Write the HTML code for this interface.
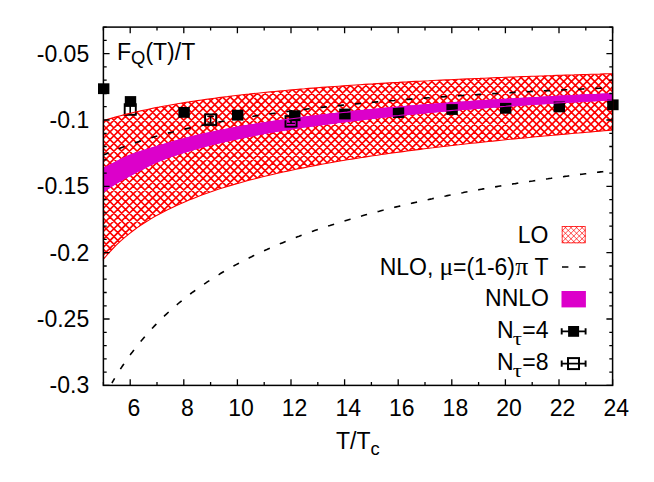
<!DOCTYPE html>
<html><head><meta charset="utf-8"><title>plot</title>
<style>
html,body{margin:0;padding:0;background:#fff;}
body{width:654px;height:482px;overflow:hidden;}
svg{display:block;}
text{font-family:"Liberation Sans",sans-serif;font-size:23.0px;fill:#000;}
.sym{font-family:"Liberation Serif",serif;}
</style></head><body>
<svg width="654" height="482" viewBox="0 0 654 482">
<defs>
<clipPath id="loclip"><polygon points="103.4,120.7 107.7,119.4 112.0,118.1 116.2,116.9 120.5,115.8 124.8,114.6 129.1,113.6 133.4,112.5 137.6,111.5 141.9,110.6 146.2,109.7 150.5,108.8 154.7,107.9 159.0,107.1 163.3,106.2 167.6,105.5 171.9,104.7 176.1,104.0 180.4,103.2 184.7,102.5 189.0,101.9 193.3,101.2 197.5,100.6 201.8,100.0 206.1,99.4 210.4,98.8 214.7,98.2 218.9,97.6 223.2,97.1 227.5,96.6 231.8,96.0 236.0,95.5 240.3,95.0 244.6,94.5 248.9,94.1 253.2,93.6 257.4,93.2 261.7,92.7 266.0,92.3 270.3,91.9 274.6,91.5 278.8,91.1 283.1,90.7 287.4,90.3 291.7,89.9 296.0,89.5 300.2,89.1 304.5,88.8 308.8,88.4 313.1,88.1 317.3,87.8 321.6,87.4 325.9,87.1 330.2,86.8 334.5,86.5 338.7,86.2 343.0,85.9 347.3,85.6 351.6,85.3 355.9,85.0 360.1,84.7 364.4,84.4 368.7,84.1 373.0,83.9 377.3,83.6 381.5,83.4 385.8,83.1 390.1,82.8 394.4,82.6 398.7,82.4 402.9,82.1 407.2,81.9 411.5,81.6 415.8,81.4 420.0,81.2 424.3,81.0 428.6,80.8 432.9,80.5 437.2,80.3 441.4,80.1 445.7,79.9 450.0,79.7 454.3,79.5 458.6,79.3 462.8,79.1 467.1,78.9 471.4,78.7 475.7,78.5 480.0,78.4 484.2,78.2 488.5,78.0 492.8,77.8 497.1,77.6 501.3,77.5 505.6,77.3 509.9,77.1 514.2,77.0 518.5,76.8 522.7,76.6 527.0,76.5 531.3,76.3 535.6,76.2 539.9,76.0 544.1,75.9 548.4,75.7 552.7,75.6 557.0,75.4 561.3,75.3 565.5,75.1 569.8,75.0 574.1,74.9 578.4,74.7 582.6,74.6 586.9,74.5 591.2,74.3 595.5,74.2 599.8,74.1 604.0,73.9 608.3,73.8 612.6,73.7 612.6,130.1 608.3,130.4 604.0,130.8 599.8,131.1 595.5,131.5 591.2,131.9 586.9,132.2 582.6,132.6 578.4,133.0 574.1,133.3 569.8,133.7 565.5,134.1 561.3,134.5 557.0,134.9 552.7,135.3 548.4,135.6 544.1,136.0 539.9,136.4 535.6,136.8 531.3,137.2 527.0,137.7 522.7,138.1 518.5,138.5 514.2,138.9 509.9,139.3 505.6,139.8 501.3,140.2 497.1,140.6 492.8,141.1 488.5,141.5 484.2,142.0 480.0,142.4 475.7,142.9 471.4,143.3 467.1,143.8 462.8,144.3 458.6,144.8 454.3,145.2 450.0,145.7 445.7,146.2 441.4,146.7 437.2,147.2 432.9,147.8 428.6,148.3 424.3,148.8 420.0,149.4 415.8,149.9 411.5,150.4 407.2,151.0 402.9,151.6 398.7,152.1 394.4,152.7 390.1,153.3 385.8,153.9 381.5,154.5 377.3,155.2 373.0,155.8 368.7,156.4 364.4,157.1 360.1,157.7 355.9,158.4 351.6,159.1 347.3,159.8 343.0,160.5 338.7,161.2 334.5,162.0 330.2,162.7 325.9,163.5 321.6,164.3 317.3,165.1 313.1,165.9 308.8,166.7 304.5,167.6 300.2,168.4 296.0,169.3 291.7,170.2 287.4,171.1 283.1,172.0 278.8,173.0 274.6,174.0 270.3,175.0 266.0,176.0 261.7,177.0 257.4,178.1 253.2,179.2 248.9,180.3 244.6,181.5 240.3,182.7 236.0,183.9 231.8,185.1 227.5,186.4 223.2,187.7 218.9,189.1 214.7,190.5 210.4,192.0 206.1,193.5 201.8,195.1 197.5,196.7 193.3,198.4 189.0,200.1 184.7,201.9 180.4,203.8 176.1,205.7 171.9,207.7 167.6,209.8 163.3,212.0 159.0,214.2 154.7,216.6 150.5,219.1 146.2,221.7 141.9,224.5 137.6,227.4 133.4,230.5 129.1,233.9 124.8,237.4 120.5,241.1 116.2,245.1 112.0,249.5 107.7,254.2 103.4,259.3"/></clipPath>
<clipPath id="legclip"><rect x="561.8" y="226.1" width="23.8" height="17.1"/></clipPath>
<clipPath id="plotclip"><rect x="103.4" y="27.1" width="509.20000000000005" height="358.29999999999995"/></clipPath>
</defs>
<rect width="654" height="482" fill="#fff"/>

<path d="M96.58 60 L-105.42 262 M104.34 60 L-97.66 262 M112.09 60 L-89.91 262 M119.85 60 L-82.15 262 M127.60 60 L-74.40 262 M135.36 60 L-66.64 262 M143.11 60 L-58.89 262 M150.87 60 L-51.13 262 M158.62 60 L-43.38 262 M166.38 60 L-35.62 262 M174.13 60 L-27.87 262 M181.89 60 L-20.11 262 M189.64 60 L-12.36 262 M197.40 60 L-4.60 262 M205.15 60 L3.15 262 M212.91 60 L10.91 262 M220.66 60 L18.66 262 M228.42 60 L26.42 262 M236.17 60 L34.17 262 M243.93 60 L41.93 262 M251.68 60 L49.68 262 M259.44 60 L57.44 262 M267.19 60 L65.19 262 M274.95 60 L72.95 262 M282.70 60 L80.70 262 M290.46 60 L88.46 262 M298.21 60 L96.21 262 M305.97 60 L103.97 262 M313.72 60 L111.72 262 M321.48 60 L119.48 262 M329.23 60 L127.23 262 M336.99 60 L134.99 262 M344.74 60 L142.74 262 M352.50 60 L150.50 262 M360.25 60 L158.25 262 M368.01 60 L166.01 262 M375.76 60 L173.76 262 M383.52 60 L181.52 262 M391.27 60 L189.27 262 M399.03 60 L197.03 262 M406.78 60 L204.78 262 M414.54 60 L212.54 262 M422.29 60 L220.29 262 M430.05 60 L228.05 262 M437.80 60 L235.80 262 M445.56 60 L243.56 262 M453.31 60 L251.31 262 M461.07 60 L259.07 262 M468.82 60 L266.82 262 M476.58 60 L274.58 262 M484.33 60 L282.33 262 M492.09 60 L290.09 262 M499.84 60 L297.84 262 M507.60 60 L305.60 262 M515.35 60 L313.35 262 M523.11 60 L321.11 262 M530.86 60 L328.86 262 M538.62 60 L336.62 262 M546.37 60 L344.37 262 M554.13 60 L352.13 262 M561.88 60 L359.88 262 M569.64 60 L367.64 262 M577.39 60 L375.39 262 M585.15 60 L383.15 262 M592.90 60 L390.90 262 M600.66 60 L398.66 262 M608.41 60 L406.41 262 M616.17 60 L414.17 262 M623.92 60 L421.92 262 M631.68 60 L429.68 262 M639.43 60 L437.43 262 M647.19 60 L445.19 262 M654.94 60 L452.94 262 M662.70 60 L460.70 262 M670.45 60 L468.45 262 M678.21 60 L476.21 262 M685.96 60 L483.96 262 M693.72 60 L491.72 262 M701.47 60 L499.47 262 M709.23 60 L507.23 262 M716.98 60 L514.98 262 M724.74 60 L522.74 262 M732.49 60 L530.49 262 M740.25 60 L538.25 262 M748.00 60 L546.00 262 M755.76 60 L553.76 262 M763.51 60 L561.51 262 M771.27 60 L569.27 262 M779.02 60 L577.02 262 M786.78 60 L584.78 262 M794.53 60 L592.53 262 M802.29 60 L600.29 262 M810.04 60 L608.04 262 M817.80 60 L615.80 262 M825.55 60 L623.55 262 M-109.17 60 L92.83 262 M-101.41 60 L100.59 262 M-93.66 60 L108.34 262 M-85.90 60 L116.10 262 M-78.15 60 L123.85 262 M-70.39 60 L131.61 262 M-62.64 60 L139.36 262 M-54.88 60 L147.12 262 M-47.13 60 L154.87 262 M-39.37 60 L162.63 262 M-31.62 60 L170.38 262 M-23.86 60 L178.14 262 M-16.11 60 L185.89 262 M-8.35 60 L193.65 262 M-0.60 60 L201.40 262 M7.16 60 L209.16 262 M14.91 60 L216.91 262 M22.67 60 L224.67 262 M30.42 60 L232.42 262 M38.18 60 L240.18 262 M45.93 60 L247.93 262 M53.69 60 L255.69 262 M61.44 60 L263.44 262 M69.20 60 L271.20 262 M76.95 60 L278.95 262 M84.71 60 L286.71 262 M92.46 60 L294.46 262 M100.22 60 L302.22 262 M107.97 60 L309.97 262 M115.73 60 L317.73 262 M123.48 60 L325.48 262 M131.24 60 L333.24 262 M138.99 60 L340.99 262 M146.75 60 L348.75 262 M154.50 60 L356.50 262 M162.26 60 L364.26 262 M170.01 60 L372.01 262 M177.77 60 L379.77 262 M185.52 60 L387.52 262 M193.28 60 L395.28 262 M201.03 60 L403.03 262 M208.79 60 L410.79 262 M216.54 60 L418.54 262 M224.30 60 L426.30 262 M232.05 60 L434.05 262 M239.81 60 L441.81 262 M247.56 60 L449.56 262 M255.32 60 L457.32 262 M263.07 60 L465.07 262 M270.83 60 L472.83 262 M278.58 60 L480.58 262 M286.34 60 L488.34 262 M294.09 60 L496.09 262 M301.85 60 L503.85 262 M309.60 60 L511.60 262 M317.36 60 L519.36 262 M325.11 60 L527.11 262 M332.87 60 L534.87 262 M340.62 60 L542.62 262 M348.38 60 L550.38 262 M356.13 60 L558.13 262 M363.89 60 L565.89 262 M371.64 60 L573.64 262 M379.40 60 L581.40 262 M387.15 60 L589.15 262 M394.91 60 L596.91 262 M402.66 60 L604.66 262 M410.42 60 L612.42 262 M418.17 60 L620.17 262 M425.93 60 L627.93 262 M433.68 60 L635.68 262 M441.44 60 L643.44 262 M449.19 60 L651.19 262 M456.95 60 L658.95 262 M464.70 60 L666.70 262 M472.46 60 L674.46 262 M480.21 60 L682.21 262 M487.97 60 L689.97 262 M495.72 60 L697.72 262 M503.48 60 L705.48 262 M511.23 60 L713.23 262 M518.99 60 L720.99 262 M526.74 60 L728.74 262 M534.50 60 L736.50 262 M542.25 60 L744.25 262 M550.01 60 L752.01 262 M557.76 60 L759.76 262 M565.52 60 L767.52 262 M573.27 60 L775.27 262 M581.03 60 L783.03 262 M588.78 60 L790.78 262 M596.54 60 L798.54 262 M604.29 60 L806.29 262 M612.05 60 L814.05 262 M619.80 60 L821.80 262" stroke="#ff0000" stroke-width="1.65" fill="none" clip-path="url(#loclip)" stroke-opacity="1"/>
<path d="M103.4 155.1 L107.7 153.2 L112.0 151.4 L116.2 149.7 L120.5 148.0 L124.8 146.4 L129.1 144.9 L133.4 143.4 L137.6 142.0 L141.9 140.6 L146.2 139.3 L150.5 138.0 L154.7 136.7 L159.0 135.5 L163.3 134.4 L167.6 133.2 L171.9 132.2 L176.1 131.1 L180.4 130.1 L184.7 129.1 L189.0 128.1 L193.3 127.2 L197.5 126.2 L201.8 125.4 L206.1 124.5 L210.4 123.6 L214.7 122.8 L218.9 122.0 L223.2 121.2 L227.5 120.5 L231.8 119.7 L236.0 119.0 L240.3 118.3 L244.6 117.6 L248.9 116.9 L253.2 116.3 L257.4 115.6 L261.7 115.0 L266.0 114.4 L270.3 113.8 L274.6 113.2 L278.8 112.6 L283.1 112.0 L287.4 111.5 L291.7 110.9 L296.0 110.4 L300.2 109.9 L304.5 109.4 L308.8 108.8 L313.1 108.4 L317.3 107.9 L321.6 107.4 L325.9 106.9 L330.2 106.5 L334.5 106.0 L338.7 105.6 L343.0 105.1 L347.3 104.7 L351.6 104.3 L355.9 103.9 L360.1 103.5 L364.4 103.1 L368.7 102.7 L373.0 102.3 L377.3 101.9 L381.5 101.6 L385.8 101.2 L390.1 100.8 L394.4 100.5 L398.7 100.1 L402.9 99.8 L407.2 99.4 L411.5 99.1 L415.8 98.8 L420.0 98.5 L424.3 98.1 L428.6 97.8 L432.9 97.5 L437.2 97.2 L441.4 96.9 L445.7 96.6 L450.0 96.3 L454.3 96.0 L458.6 95.8 L462.8 95.5 L467.1 95.2 L471.4 94.9 L475.7 94.7 L480.0 94.4 L484.2 94.1 L488.5 93.9 L492.8 93.6 L497.1 93.4 L501.3 93.1 L505.6 92.9 L509.9 92.7 L514.2 92.4 L518.5 92.2 L522.7 92.0 L527.0 91.7 L531.3 91.5 L535.6 91.3 L539.9 91.1 L544.1 90.8 L548.4 90.6 L552.7 90.4 L557.0 90.2 L561.3 90.0 L565.5 89.8 L569.8 89.6 L574.1 89.4 L578.4 89.2 L582.6 89.0 L586.9 88.8 L591.2 88.6 L595.5 88.4 L599.8 88.2 L604.0 88.1 L608.3 87.9 L612.6 87.7" fill="none" stroke="#000" stroke-width="1.6" stroke-dasharray="6.3 10.92" stroke-dashoffset="0.7"/>
<path d="M612.6 170.5 L610.9 170.7 L609.2 170.9 L607.5 171.1 L605.8 171.3 L604.1 171.5 L602.4 171.7 L600.7 171.9 L599.0 172.1 L597.3 172.3 L595.6 172.5 L593.9 172.8 L592.2 173.0 L590.5 173.2 L588.8 173.4 L587.1 173.6 L585.4 173.8 L583.6 174.0 L581.9 174.2 L580.2 174.4 L578.5 174.7 L576.8 174.9 L575.1 175.1 L573.4 175.3 L571.7 175.5 L570.0 175.8 L568.3 176.0 L566.6 176.2 L564.9 176.4 L563.2 176.7 L561.5 176.9 L559.8 177.1 L558.1 177.3 L556.4 177.6 L554.7 177.8 L553.0 178.0 L551.3 178.3 L549.6 178.5 L547.9 178.8 L546.2 179.0 L544.5 179.2 L542.8 179.5 L541.1 179.7 L539.4 180.0 L537.7 180.2 L536.0 180.5 L534.3 180.7 L532.6 181.0 L530.9 181.2 L529.2 181.5 L527.4 181.7 L525.7 182.0 L524.0 182.3 L522.3 182.5 L520.6 182.8 L518.9 183.0 L517.2 183.3 L515.5 183.6 L513.8 183.8 L512.1 184.1 L510.4 184.4 L508.7 184.7 L507.0 184.9 L505.3 185.2 L503.6 185.5 L501.9 185.8 L500.2 186.0 L498.5 186.3 L496.8 186.6 L495.1 186.9 L493.4 187.2 L491.7 187.5 L490.0 187.8 L488.3 188.1 L486.6 188.4 L484.9 188.6 L483.2 188.9 L481.5 189.2 L479.8 189.5 L478.1 189.9 L476.4 190.2 L474.7 190.5 L473.0 190.8 L471.3 191.1 L469.5 191.4 L467.8 191.7 L466.1 192.0 L464.4 192.3 L462.7 192.7 L461.0 193.0 L459.3 193.3 L457.6 193.6 L455.9 194.0 L454.2 194.3 L452.5 194.6 L450.8 195.0 L449.1 195.3 L447.4 195.6 L445.7 196.0 L444.0 196.3 L442.3 196.7 L440.6 197.0 L438.9 197.4 L437.2 197.7 L435.5 198.1 L433.8 198.4 L432.1 198.8 L430.4 199.1 L428.7 199.5 L427.0 199.9 L425.3 200.2 L423.6 200.6 L421.9 201.0 L420.2 201.4 L418.5 201.7 L416.8 202.1 L415.1 202.5 L413.3 202.9 L411.6 203.3 L409.9 203.7 L408.2 204.1 L406.5 204.5 L404.8 204.9 L403.1 205.3 L401.4 205.7 L399.7 206.1 L398.0 206.5 L396.3 206.9 L394.6 207.3 L392.9 207.7 L391.2 208.1 L389.5 208.6 L387.8 209.0 L386.1 209.4 L384.4 209.8 L382.7 210.3 L381.0 210.7 L379.3 211.2 L377.6 211.6 L375.9 212.1 L374.2 212.5 L372.5 213.0 L370.8 213.4 L369.1 213.9 L367.4 214.3 L365.7 214.8 L364.0 215.3 L362.3 215.8 L360.6 216.2 L358.9 216.7 L357.1 217.2 L355.4 217.7 L353.7 218.2 L352.0 218.7 L350.3 219.2 L348.6 219.7 L346.9 220.2 L345.2 220.7 L343.5 221.2 L341.8 221.7 L340.1 222.3 L338.4 222.8 L336.7 223.3 L335.0 223.9 L333.3 224.4 L331.6 224.9 L329.9 225.5 L328.2 226.0 L326.5 226.6 L324.8 227.2 L323.1 227.7 L321.4 228.3 L319.7 228.9 L318.0 229.5 L316.3 230.0 L314.6 230.6 L312.9 231.2 L311.2 231.8 L309.5 232.4 L307.8 233.0 L306.1 233.7 L304.4 234.3 L302.7 234.9 L300.9 235.5 L299.2 236.2 L297.5 236.8 L295.8 237.5 L294.1 238.1 L292.4 238.8 L290.7 239.4 L289.0 240.1 L287.3 240.8 L285.6 241.5 L283.9 242.2 L282.2 242.9 L280.5 243.6 L278.8 244.3 L277.1 245.0 L275.4 245.7 L273.7 246.5 L272.0 247.2 L270.3 248.0 L268.6 248.7 L266.9 249.5 L265.2 250.2 L263.5 251.0 L261.8 251.8 L260.1 252.6 L258.4 253.4 L256.7 254.2 L255.0 255.0 L253.3 255.8 L251.6 256.7 L249.9 257.5 L248.2 258.4 L246.5 259.2 L244.7 260.1 L243.0 261.0 L241.3 261.9 L239.6 262.8 L237.9 263.7 L236.2 264.6 L234.5 265.5 L232.8 266.4 L231.1 267.4 L229.4 268.4 L227.7 269.3 L226.0 270.3 L224.3 271.3 L222.6 272.3 L220.9 273.3 L219.2 274.4 L217.5 275.4 L215.8 276.5 L214.1 277.5 L212.4 278.6 L210.7 279.7 L209.0 280.8 L207.3 281.9 L205.6 283.1 L203.9 284.2 L202.2 285.4 L200.5 286.6 L198.8 287.8 L197.1 289.0 L195.4 290.2 L193.7 291.5 L192.0 292.7 L190.3 294.0 L188.6 295.3 L186.8 296.7 L185.1 298.0 L183.4 299.3 L181.7 300.7 L180.0 302.1 L178.3 303.5 L176.6 305.0 L174.9 306.4 L173.2 307.9 L171.5 309.4 L169.8 311.0 L168.1 312.5 L166.4 314.1 L164.7 315.7 L163.0 317.3 L161.3 319.0 L159.6 320.7 L157.9 322.4 L156.2 324.1 L154.5 325.9 L152.8 327.7 L151.1 329.5 L149.4 331.4 L147.7 333.3 L146.0 335.2 L144.3 337.2 L142.6 339.2 L140.9 341.2 L139.2 343.3 L137.5 345.4 L135.8 347.6 L134.1 349.8 L132.4 352.1 L130.6 354.3 L128.9 356.7 L127.2 359.1 L125.5 361.5 L123.8 364.0 L122.1 366.5 L120.4 369.1 L118.7 371.8 L117.0 374.5 L115.3 377.2 L113.6 380.1 L111.9 383.0" fill="none" stroke="#000" stroke-width="1.6" stroke-dasharray="6.3 10.87" stroke-dashoffset="7.8" clip-path="url(#plotclip)"/>
<polygon points="103.4,167.6 107.7,165.7 112.0,163.5 116.2,161.2 120.5,159.0 124.8,156.9 129.1,155.0 133.4,153.3 137.6,151.8 141.9,150.5 146.2,149.2 150.5,147.9 154.7,146.6 159.0,145.3 163.3,144.0 167.6,142.7 171.9,141.5 176.1,140.3 180.4,139.1 184.7,138.0 189.0,136.9 193.3,135.8 197.5,134.8 201.8,133.8 206.1,132.9 210.4,131.9 214.7,131.0 218.9,130.1 223.2,129.3 227.5,128.4 231.8,127.6 236.0,126.8 240.3,126.1 244.6,125.3 248.9,124.6 253.2,123.9 257.4,123.2 261.7,122.6 266.0,121.9 270.3,121.3 274.6,120.6 278.8,120.0 283.1,119.4 287.4,118.8 291.7,118.3 296.0,117.7 300.2,117.1 304.5,116.6 308.8,116.0 313.1,115.5 317.3,115.0 321.6,114.4 325.9,113.9 330.2,113.4 334.5,112.9 338.7,112.4 343.0,112.0 347.3,111.5 351.6,111.0 355.9,110.6 360.1,110.1 364.4,109.7 368.7,109.3 373.0,108.9 377.3,108.5 381.5,108.0 385.8,107.6 390.1,107.3 394.4,106.9 398.7,106.5 402.9,106.1 407.2,105.7 411.5,105.4 415.8,105.0 420.0,104.7 424.3,104.3 428.6,104.0 432.9,103.7 437.2,103.3 441.4,103.0 445.7,102.7 450.0,102.4 454.3,102.1 458.6,101.7 462.8,101.4 467.1,101.2 471.4,100.9 475.7,100.6 480.0,100.3 484.2,100.0 488.5,99.7 492.8,99.5 497.1,99.2 501.3,98.9 505.6,98.7 509.9,98.4 514.2,98.2 518.5,97.9 522.7,97.7 527.0,97.4 531.3,97.2 535.6,96.9 539.9,96.7 544.1,96.5 548.4,96.2 552.7,96.0 557.0,95.8 561.3,95.6 565.5,95.4 569.8,95.2 574.1,94.9 578.4,94.7 582.6,94.5 586.9,94.3 591.2,94.1 595.5,93.9 599.8,93.7 604.0,93.6 608.3,93.4 612.6,93.2 612.6,100.4 608.3,100.6 604.0,100.8 599.8,101.1 595.5,101.3 591.2,101.5 586.9,101.8 582.6,102.0 578.4,102.2 574.1,102.5 569.8,102.7 565.5,103.0 561.3,103.2 557.0,103.5 552.7,103.7 548.4,104.0 544.1,104.2 539.9,104.5 535.6,104.8 531.3,105.1 527.0,105.3 522.7,105.6 518.5,105.9 514.2,106.2 509.9,106.5 505.6,106.8 501.3,107.1 497.1,107.4 492.8,107.7 488.5,108.1 484.2,108.4 480.0,108.7 475.7,109.0 471.4,109.4 467.1,109.7 462.8,110.1 458.6,110.4 454.3,110.8 450.0,111.1 445.7,111.5 441.4,111.9 437.2,112.3 432.9,112.7 428.6,113.0 424.3,113.4 420.0,113.9 415.8,114.3 411.5,114.7 407.2,115.1 402.9,115.6 398.7,116.0 394.4,116.5 390.1,116.9 385.8,117.4 381.5,117.9 377.3,118.4 373.0,118.9 368.7,119.4 364.4,119.9 360.1,120.4 355.9,120.9 351.6,121.5 347.3,122.0 343.0,122.5 338.7,123.1 334.5,123.6 330.2,124.1 325.9,124.7 321.6,125.3 317.3,125.8 313.1,126.4 308.8,127.0 304.5,127.6 300.2,128.2 296.0,128.8 291.7,129.5 287.4,130.2 283.1,130.9 278.8,131.6 274.6,132.3 270.3,133.0 266.0,133.8 261.7,134.6 257.4,135.4 253.2,136.2 248.9,137.1 244.6,137.9 240.3,138.8 236.0,139.7 231.8,140.6 227.5,141.5 223.2,142.4 218.9,143.4 214.7,144.4 210.4,145.5 206.1,146.6 201.8,147.8 197.5,148.9 193.3,150.2 189.0,151.4 184.7,152.7 180.4,154.1 176.1,155.4 171.9,156.8 167.6,158.3 163.3,159.9 159.0,161.7 154.7,163.5 150.5,165.6 146.2,167.7 141.9,169.9 137.6,172.1 133.4,174.4 129.1,176.7 124.8,179.0 120.5,181.4 116.2,183.9 112.0,186.5 107.7,189.4 103.4,192.5" fill="#dc00ca" stroke="none"/>
<rect x="98.0" y="83.3" width="11.4" height="10.8" fill="#000"/>
<rect x="124.8" y="96.1" width="11.4" height="10.8" fill="#000"/>
<rect x="178.4" y="107.0" width="11.4" height="10.8" fill="#000"/>
<rect x="232.0" y="109.8" width="11.4" height="10.8" fill="#000"/>
<rect x="289.1" y="110.3" width="11.4" height="10.8" fill="#000"/>
<rect x="339.2" y="108.6" width="11.4" height="10.8" fill="#000"/>
<rect x="392.8" y="107.2" width="11.4" height="10.8" fill="#000"/>
<rect x="446.4" y="104.1" width="11.4" height="10.8" fill="#000"/>
<rect x="500.0" y="102.9" width="11.4" height="10.8" fill="#000"/>
<rect x="553.6" y="101.5" width="11.4" height="10.8" fill="#000"/>
<rect x="607.2" y="99.4" width="11.4" height="10.8" fill="#000"/>
<rect x="124.7" y="104.2" width="11.1" height="10.6" fill="none" stroke="#000" stroke-width="1.9"/>
<path d="M130.2 106.0 V113.0" stroke="#000" stroke-width="1.6" fill="none"/>
<rect x="205.1" y="114.4" width="11.1" height="10.6" fill="none" stroke="#000" stroke-width="1.9"/>
<path d="M210.6 116.3 V123.1" stroke="#000" stroke-width="1.6" fill="none"/>
<path d="M207.3 116.3 H213.9 M207.3 123.1 H213.9" stroke="#000" stroke-width="1.2" fill="none"/>
<rect x="285.5" y="116.1" width="11.1" height="10.6" fill="none" stroke="#000" stroke-width="1.9"/>
<path d="M291.0 119.4 V123.4" stroke="#000" stroke-width="1.6" fill="none"/>
<path d="M287.0 119.4 H295.0 M287.0 123.4 H295.0" stroke="#000" stroke-width="1.2" fill="none"/>
<path d="M103.4 168.2 L107.7 166.2 L112.0 164.0 L116.2 161.8 L120.5 159.5 L124.8 157.4 L129.1 155.5 L133.4 153.9 L137.6 152.4 L141.9 151.0 L146.2 149.7 L150.5 148.4 L154.7 147.1 L159.0 145.8 L163.3 144.5 L167.6 143.3 L171.9 142.0 L176.1 140.8 L180.4 139.6 L184.7 138.5 L189.0 137.4 L193.3 136.4 L197.5 135.4 L201.8 134.4 L206.1 133.4 L210.4 132.5 L214.7 131.6 L218.9 130.7 L223.2 129.8 L227.5 129.0 L231.8 128.2 L236.0 127.4 L240.3 126.6 L244.6 125.9 L248.9 125.2 L253.2 124.5 L257.4 123.8 L261.7 123.1 L266.0 122.5 L270.3 121.8 L274.6 121.2 L278.8 120.6 L283.1 120.0 L287.4 119.4 L291.7 118.8 L296.0 118.2 L300.2 117.7 L304.5 117.1 L308.8 116.6 L313.1 116.0 L317.3 115.5 L321.6 115.0 L325.9 114.5 L330.2 114.0 L334.5 113.5 L338.7 113.0 L343.0 112.5 L347.3 112.1 L351.6 111.6 L355.9 111.1 L360.1 110.7 L364.4 110.3 L368.7 109.8 L373.0 109.4 L377.3 109.0 L381.5 108.6 L385.8 108.2 L390.1 107.8 L394.4 107.4 L398.7 107.0 L402.9 106.7 L407.2 106.3 L411.5 105.9 L415.8 105.6 L420.0 105.2 L424.3 104.9 L428.6 104.5 L432.9 104.2 L437.2 103.9 L441.4 103.6 L445.7 103.2 L450.0 102.9 L454.3 102.6 L458.6 102.3 L462.8 102.0 L467.1 101.7 L471.4 101.4 L475.7 101.1 L480.0 100.8 L484.2 100.6 L488.5 100.3 L492.8 100.0 L497.1 99.7 L501.3 99.5 L505.6 99.2 L509.9 99.0 L514.2 98.7 L518.5 98.5 L522.7 98.2 L527.0 98.0 L531.3 97.7 L535.6 97.5 L539.9 97.3 L544.1 97.0 L548.4 96.8 L552.7 96.6 L557.0 96.4 L561.3 96.1 L565.5 95.9 L569.8 95.7 L574.1 95.5 L578.4 95.3 L582.6 95.1 L586.9 94.9 L591.2 94.7 L595.5 94.5 L599.8 94.3 L604.0 94.1 L608.3 93.9 L612.6 93.7" fill="none" stroke="#dc00ca" stroke-width="1.1"/>
<path d="M103.4 191.9 L107.7 188.8 L112.0 186.0 L116.2 183.3 L120.5 180.8 L124.8 178.4 L129.1 176.1 L133.4 173.8 L137.6 171.6 L141.9 169.4 L146.2 167.2 L150.5 165.0 L154.7 163.0 L159.0 161.1 L163.3 159.4 L167.6 157.8 L171.9 156.3 L176.1 154.9 L180.4 153.5 L184.7 152.2 L189.0 150.9 L193.3 149.6 L197.5 148.4 L201.8 147.2 L206.1 146.1 L210.4 145.0 L214.7 143.9 L218.9 142.9 L223.2 141.9 L227.5 140.9 L231.8 140.0 L236.0 139.1 L240.3 138.2 L244.6 137.4 L248.9 136.5 L253.2 135.7 L257.4 134.8 L261.7 134.0 L266.0 133.3 L270.3 132.5 L274.6 131.7 L278.8 131.0 L283.1 130.3 L287.4 129.6 L291.7 128.9 L296.0 128.3 L300.2 127.7 L304.5 127.0 L308.8 126.4 L313.1 125.9 L317.3 125.3 L321.6 124.7 L325.9 124.2 L330.2 123.6 L334.5 123.1 L338.7 122.5 L343.0 122.0 L347.3 121.4 L351.6 120.9 L355.9 120.4 L360.1 119.9 L364.4 119.3 L368.7 118.8 L373.0 118.3 L377.3 117.8 L381.5 117.3 L385.8 116.9 L390.1 116.4 L394.4 115.9 L398.7 115.5 L402.9 115.0 L407.2 114.6 L411.5 114.1 L415.8 113.7 L420.0 113.3 L424.3 112.9 L428.6 112.5 L432.9 112.1 L437.2 111.7 L441.4 111.3 L445.7 111.0 L450.0 110.6 L454.3 110.2 L458.6 109.9 L462.8 109.5 L467.1 109.2 L471.4 108.8 L475.7 108.5 L480.0 108.2 L484.2 107.8 L488.5 107.5 L492.8 107.2 L497.1 106.9 L501.3 106.6 L505.6 106.3 L509.9 105.9 L514.2 105.7 L518.5 105.4 L522.7 105.1 L527.0 104.8 L531.3 104.5 L535.6 104.2 L539.9 104.0 L544.1 103.7 L548.4 103.4 L552.7 103.2 L557.0 102.9 L561.3 102.7 L565.5 102.4 L569.8 102.2 L574.1 101.9 L578.4 101.7 L582.6 101.4 L586.9 101.2 L591.2 101.0 L595.5 100.7 L599.8 100.5 L604.0 100.3 L608.3 100.1 L612.6 99.9" fill="none" stroke="#dc00ca" stroke-width="1.1"/>
<polygon points="103.4,120.7 107.7,119.4 112.0,118.1 116.2,116.9 120.5,115.8 124.8,114.6 129.1,113.6 133.4,112.5 137.6,111.5 141.9,110.6 146.2,109.7 150.5,108.8 154.7,107.9 159.0,107.1 163.3,106.2 167.6,105.5 171.9,104.7 176.1,104.0 180.4,103.2 184.7,102.5 189.0,101.9 193.3,101.2 197.5,100.6 201.8,100.0 206.1,99.4 210.4,98.8 214.7,98.2 218.9,97.6 223.2,97.1 227.5,96.6 231.8,96.0 236.0,95.5 240.3,95.0 244.6,94.5 248.9,94.1 253.2,93.6 257.4,93.2 261.7,92.7 266.0,92.3 270.3,91.9 274.6,91.5 278.8,91.1 283.1,90.7 287.4,90.3 291.7,89.9 296.0,89.5 300.2,89.1 304.5,88.8 308.8,88.4 313.1,88.1 317.3,87.8 321.6,87.4 325.9,87.1 330.2,86.8 334.5,86.5 338.7,86.2 343.0,85.9 347.3,85.6 351.6,85.3 355.9,85.0 360.1,84.7 364.4,84.4 368.7,84.1 373.0,83.9 377.3,83.6 381.5,83.4 385.8,83.1 390.1,82.8 394.4,82.6 398.7,82.4 402.9,82.1 407.2,81.9 411.5,81.6 415.8,81.4 420.0,81.2 424.3,81.0 428.6,80.8 432.9,80.5 437.2,80.3 441.4,80.1 445.7,79.9 450.0,79.7 454.3,79.5 458.6,79.3 462.8,79.1 467.1,78.9 471.4,78.7 475.7,78.5 480.0,78.4 484.2,78.2 488.5,78.0 492.8,77.8 497.1,77.6 501.3,77.5 505.6,77.3 509.9,77.1 514.2,77.0 518.5,76.8 522.7,76.6 527.0,76.5 531.3,76.3 535.6,76.2 539.9,76.0 544.1,75.9 548.4,75.7 552.7,75.6 557.0,75.4 561.3,75.3 565.5,75.1 569.8,75.0 574.1,74.9 578.4,74.7 582.6,74.6 586.9,74.5 591.2,74.3 595.5,74.2 599.8,74.1 604.0,73.9 608.3,73.8 612.6,73.7 612.6,130.1 608.3,130.4 604.0,130.8 599.8,131.1 595.5,131.5 591.2,131.9 586.9,132.2 582.6,132.6 578.4,133.0 574.1,133.3 569.8,133.7 565.5,134.1 561.3,134.5 557.0,134.9 552.7,135.3 548.4,135.6 544.1,136.0 539.9,136.4 535.6,136.8 531.3,137.2 527.0,137.7 522.7,138.1 518.5,138.5 514.2,138.9 509.9,139.3 505.6,139.8 501.3,140.2 497.1,140.6 492.8,141.1 488.5,141.5 484.2,142.0 480.0,142.4 475.7,142.9 471.4,143.3 467.1,143.8 462.8,144.3 458.6,144.8 454.3,145.2 450.0,145.7 445.7,146.2 441.4,146.7 437.2,147.2 432.9,147.8 428.6,148.3 424.3,148.8 420.0,149.4 415.8,149.9 411.5,150.4 407.2,151.0 402.9,151.6 398.7,152.1 394.4,152.7 390.1,153.3 385.8,153.9 381.5,154.5 377.3,155.2 373.0,155.8 368.7,156.4 364.4,157.1 360.1,157.7 355.9,158.4 351.6,159.1 347.3,159.8 343.0,160.5 338.7,161.2 334.5,162.0 330.2,162.7 325.9,163.5 321.6,164.3 317.3,165.1 313.1,165.9 308.8,166.7 304.5,167.6 300.2,168.4 296.0,169.3 291.7,170.2 287.4,171.1 283.1,172.0 278.8,173.0 274.6,174.0 270.3,175.0 266.0,176.0 261.7,177.0 257.4,178.1 253.2,179.2 248.9,180.3 244.6,181.5 240.3,182.7 236.0,183.9 231.8,185.1 227.5,186.4 223.2,187.7 218.9,189.1 214.7,190.5 210.4,192.0 206.1,193.5 201.8,195.1 197.5,196.7 193.3,198.4 189.0,200.1 184.7,201.9 180.4,203.8 176.1,205.7 171.9,207.7 167.6,209.8 163.3,212.0 159.0,214.2 154.7,216.6 150.5,219.1 146.2,221.7 141.9,224.5 137.6,227.4 133.4,230.5 129.1,233.9 124.8,237.4 120.5,241.1 116.2,245.1 112.0,249.5 107.7,254.2 103.4,259.3" fill="none" stroke="#ff0000" stroke-width="1.1"/>
<rect x="103.4" y="27.1" width="509.2" height="358.3" fill="none" stroke="#000" stroke-width="1.5"/>
<path d="M103.4 385.4 v-3.3 M103.4 27.1 v3.3 M130.2 385.4 v-6.2 M130.2 27.1 v6.2 M157.0 385.4 v-3.3 M157.0 27.1 v3.3 M183.8 385.4 v-6.2 M183.8 27.1 v6.2 M210.6 385.4 v-3.3 M210.6 27.1 v3.3 M237.4 385.4 v-6.2 M237.4 27.1 v6.2 M264.2 385.4 v-3.3 M264.2 27.1 v3.3 M291.0 385.4 v-6.2 M291.0 27.1 v6.2 M317.8 385.4 v-3.3 M317.8 27.1 v3.3 M344.6 385.4 v-6.2 M344.6 27.1 v6.2 M371.4 385.4 v-3.3 M371.4 27.1 v3.3 M398.2 385.4 v-6.2 M398.2 27.1 v6.2 M425.0 385.4 v-3.3 M425.0 27.1 v3.3 M451.8 385.4 v-6.2 M451.8 27.1 v6.2 M478.6 385.4 v-3.3 M478.6 27.1 v3.3 M505.4 385.4 v-6.2 M505.4 27.1 v6.2 M532.2 385.4 v-3.3 M532.2 27.1 v3.3 M559.0 385.4 v-6.2 M559.0 27.1 v6.2 M585.8 385.4 v-3.3 M585.8 27.1 v3.3 M612.6 385.4 v-6.2 M612.6 27.1 v6.2 M103.4 27.1 h3.3 M612.6 27.1 h-3.3 M103.4 40.4 h3.3 M612.6 40.4 h-3.3 M103.4 53.6 h6.2 M612.6 53.6 h-6.2 M103.4 66.9 h3.3 M612.6 66.9 h-3.3 M103.4 80.2 h3.3 M612.6 80.2 h-3.3 M103.4 93.5 h3.3 M612.6 93.5 h-3.3 M103.4 106.7 h3.3 M612.6 106.7 h-3.3 M103.4 120.0 h6.2 M612.6 120.0 h-6.2 M103.4 133.3 h3.3 M612.6 133.3 h-3.3 M103.4 146.5 h3.3 M612.6 146.5 h-3.3 M103.4 159.8 h3.3 M612.6 159.8 h-3.3 M103.4 173.1 h3.3 M612.6 173.1 h-3.3 M103.4 186.3 h6.2 M612.6 186.3 h-6.2 M103.4 199.6 h3.3 M612.6 199.6 h-3.3 M103.4 212.9 h3.3 M612.6 212.9 h-3.3 M103.4 226.2 h3.3 M612.6 226.2 h-3.3 M103.4 239.4 h3.3 M612.6 239.4 h-3.3 M103.4 252.7 h6.2 M612.6 252.7 h-6.2 M103.4 266.0 h3.3 M612.6 266.0 h-3.3 M103.4 279.2 h3.3 M612.6 279.2 h-3.3 M103.4 292.5 h3.3 M612.6 292.5 h-3.3 M103.4 305.8 h3.3 M612.6 305.8 h-3.3 M103.4 319.0 h6.2 M612.6 319.0 h-6.2 M103.4 332.3 h3.3 M612.6 332.3 h-3.3 M103.4 345.6 h3.3 M612.6 345.6 h-3.3 M103.4 358.9 h3.3 M612.6 358.9 h-3.3 M103.4 372.1 h3.3 M612.6 372.1 h-3.3 M103.4 385.4 h6.2 M612.6 385.4 h-6.2" stroke="#000" stroke-width="1.3" fill="none"/>
<text x="89.2" y="61.6" text-anchor="end">-0.05</text>
<text x="89.2" y="128.0" text-anchor="end">-0.1</text>
<text x="89.2" y="194.3" text-anchor="end">-0.15</text>
<text x="89.2" y="260.7" text-anchor="end">-0.2</text>
<text x="89.2" y="327.0" text-anchor="end">-0.25</text>
<text x="89.2" y="393.4" text-anchor="end">-0.3</text>
<text x="133.8" y="416" text-anchor="middle">6</text>
<text x="187.4" y="416" text-anchor="middle">8</text>
<text x="241.0" y="416" text-anchor="middle">10</text>
<text x="294.6" y="416" text-anchor="middle">12</text>
<text x="348.2" y="416" text-anchor="middle">14</text>
<text x="401.8" y="416" text-anchor="middle">16</text>
<text x="455.4" y="416" text-anchor="middle">18</text>
<text x="509.0" y="416" text-anchor="middle">20</text>
<text x="562.6" y="416" text-anchor="middle">22</text>
<text x="616.2" y="416" text-anchor="middle">24</text>
<text x="117" y="59.5">F<tspan font-size="18.4" dy="4.9">Q</tspan><tspan dy="-4.9">(T)/T</tspan></text>
<text x="336" y="448.5">T/T<tspan font-size="18.4" dy="6.3">c</tspan></text>
<text x="548.5" y="242.5" text-anchor="end">LO</text>
<path d="M558.02 224 L536.02 246 M563.57 224 L541.57 246 M569.12 224 L547.12 246 M574.67 224 L552.67 246 M580.22 224 L558.22 246 M585.77 224 L563.77 246 M591.32 224 L569.32 246 M596.88 224 L574.88 246 M602.42 224 L580.42 246 M607.97 224 L585.97 246 M613.52 224 L591.52 246 M534.02 224 L556.02 246 M539.58 224 L561.58 246 M545.12 224 L567.12 246 M550.67 224 L572.67 246 M556.22 224 L578.22 246 M561.77 224 L583.77 246 M567.33 224 L589.33 246 M572.88 224 L594.88 246 M578.42 224 L600.42 246 M583.97 224 L605.97 246 M589.52 224 L611.52 246" stroke="#ff0000" stroke-width="0.8" fill="none" clip-path="url(#legclip)" stroke-opacity="0.9"/>
<rect x="562.2" y="226.5" width="23" height="16.3" fill="none" stroke="#ff0000" stroke-width="0.9" stroke-opacity="0.85"/>
<text x="379.7" y="274.6">NLO,</text>
<text x="439.6" y="274.6" class="sym" style="font-size:25.5px">μ</text>
<text x="453" y="274.6">=(1-6)</text>
<text x="515.3" y="274.6" class="sym" style="font-size:25.8px">π</text>
<text x="534.6" y="274.6">T</text>
<path d="M562 267 H586" stroke="#000" stroke-width="1.5" stroke-dasharray="6.4 10.7" fill="none"/>
<text x="549" y="306.4" text-anchor="end">NNLO</text>
<rect x="561.5" y="291" width="24.4" height="16.4" fill="#dc00ca"/>
<text x="497" y="337.6">N</text>
<text transform="translate(512.8,344.8) scale(1.25,1)" class="sym" style="font-size:18.4px">τ</text>
<text x="522.3" y="337.6">=4</text>
<path d="M561.7 331.4 H585.6 M561.7 328.2 v6.4 M585.6 328.2 v6.4" stroke="#000" stroke-width="1.9" fill="none"/>
<rect x="568.1" y="326" width="11" height="10.8" fill="#000"/>
<text x="497" y="369.6">N</text>
<text transform="translate(512.8,376.8) scale(1.25,1)" class="sym" style="font-size:18.4px">τ</text>
<text x="522.3" y="369.6">=8</text>
<path d="M561.7 363.6 H585.6 M561.7 360.4 v6.4 M585.6 360.4 v6.4" stroke="#000" stroke-width="1.9" fill="none"/>
<rect x="568" y="358.1" width="11" height="11" fill="#fff" stroke="#000" stroke-width="2"/>
<path d="M568 363.6 H579" stroke="#000" stroke-width="1.7" fill="none"/>
</svg></body></html>
